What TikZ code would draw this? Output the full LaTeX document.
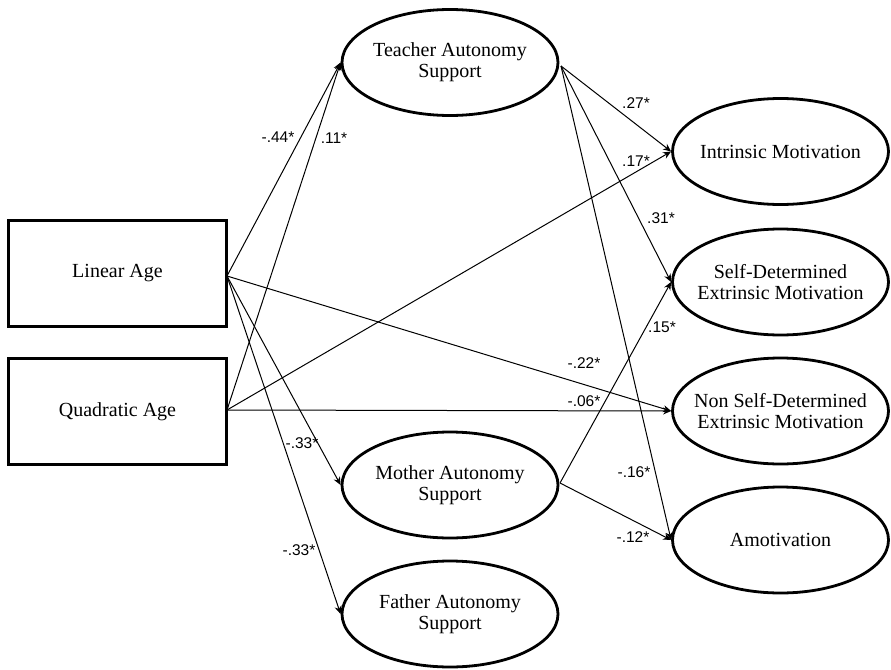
\documentclass[tikz,border=0pt]{standalone}
\usepackage{fontspec}
\setmainfont{Liberation Serif}
\newfontfamily\labfont{Liberation Sans}
\usetikzlibrary{shapes.geometric,arrows.meta}
\begin{document}
\begin{tikzpicture}[x=1pt,y=-1pt,
  txt/.style={align=center,inner sep=0pt,font=\fontsize{20}{21}\selectfont},
  latent/.style={ellipse,draw,line width=2.8pt,minimum width=216pt,minimum height=106pt,inner sep=0pt,label={[txt]center:#1}},
  observed/.style={rectangle,draw,line width=2.8pt,minimum width=218pt,minimum height=106pt,inner sep=0pt,align=center,font=\fontsize{20}{21}\selectfont},
  path/.style={line width=1pt,-{Stealth[length=8pt,width=7pt]}},
  lab/.style={font=\labfont\fontsize{15.5}{17}\selectfont,inner sep=0pt}]
\useasboundingbox (0,0) rectangle (891,669);
% nodes
\node[observed] (lin) at (117.5,273.5) {Linear Age};
\node[observed] (quad) at (117.5,411.5) {Quadratic Age};
\node[latent={Teacher Autonomy\\Support}] (teach) at (450,62.5) {};
\node[latent={Mother Autonomy\\Support}] (moth) at (450,485) {};
\node[latent={Father Autonomy\\Support}] (fath) at (450,614) {};
\node[latent={Intrinsic Motivation}] (intr) at (780.5,151.5) {};
\node[latent={Self-Determined\\Extrinsic Motivation}] (sdem) at (780.5,282) {};
\node[latent={Non Self-Determined\\Extrinsic Motivation}] (nsdem) at (780.5,411) {};
\node[latent={Amotivation}] (amot) at (780.5,540) {};
% anchor points
\coordinate (linE) at (227,276);
\coordinate (quadE) at (227,410);
\coordinate (teachE) at (561,66);
\coordinate (mothE) at (560,483);
% paths from age
\draw[path] (linE) -- (teach.west);
\draw[path] (quadE) -- (teach.west);
\draw[path] (quadE) -- (intr.west);
\draw[path] (linE) -- (nsdem.west);
\draw[path] (quadE) -- (nsdem.west);
\draw[path] (linE) -- (moth.west);
\draw[path] (linE) -- (fath.west);
% paths from teacher
\draw[path] (teachE) -- (intr.west);
\draw[path] (teachE) -- (sdem.west);
\draw[path] (teachE) -- (amot.west);
% paths from mother
\draw[path] (mothE) -- (sdem.west);
\draw[path] (mothE) -- (amot.west);
% labels
\node[lab] (l1) at (278,137) {-.44*};
\node[lab] (l2) at (334,138) {.11*};
\node[lab] (l3) at (636,103) {.27*};
\node[lab] (l4) at (636,161) {.17*};
\node[lab] (l5) at (661,218) {.31*};
\node[lab] (l6) at (662,327) {.15*};
\node[lab] (l7) at (584,363) {-.22*};
\node[lab] (l8) at (584,401) {-.06*};
\node[lab] (l9) at (302,443) {-.33*};
\node[lab] (l10) at (299,550) {-.33*};
\node[lab] (l11) at (634,472) {-.16*};
\node[lab] (l12) at (633,537) {-.12*};
\end{tikzpicture}
\end{document}
